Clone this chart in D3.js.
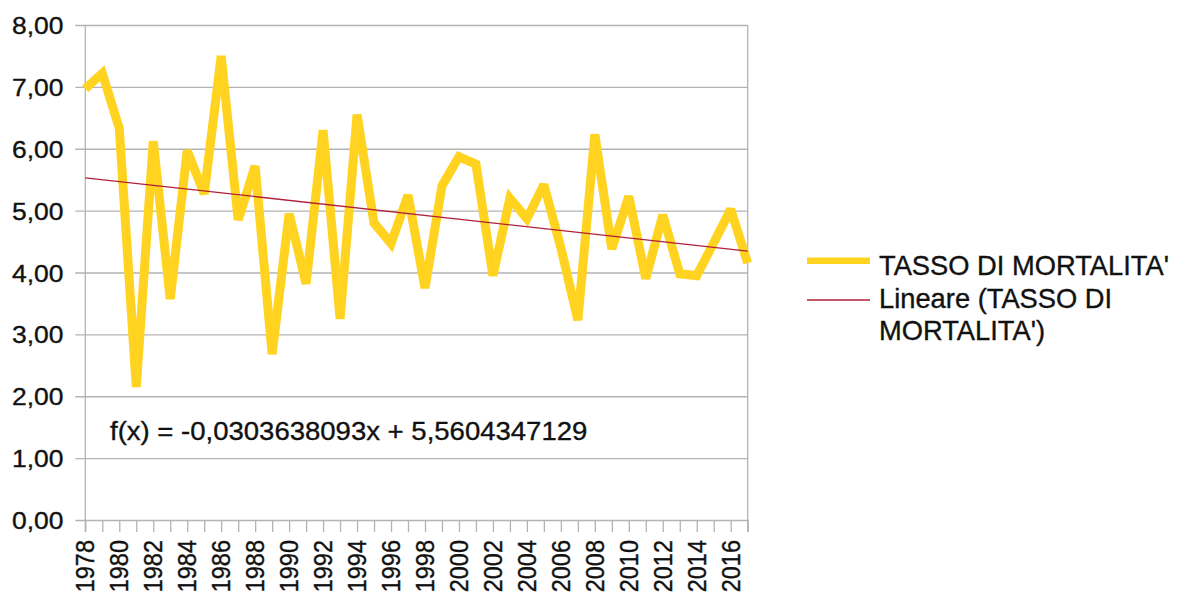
<!DOCTYPE html>
<html>
<head>
<meta charset="utf-8">
<script src="https://cdn.jsdelivr.net/npm/d3@7"></script>
<style>
  html, body { margin: 0; padding: 0; background: #fff; }
  svg { display: block; }
  text { font-family: "Liberation Sans", Arial, sans-serif; fill: #111; stroke: #111; stroke-width: 0.35px; }
</style>
</head>
<body>
<svg id="chart" width="1181" height="601"></svg>
<script>
// Annual mortality rate series
const years = d3.range(1978, 2018);
const rates = [
  6.97, 7.22, 6.33, 2.15, 6.12, 3.57, 5.97, 5.27, 7.50, 4.85,
  5.72, 2.68, 4.95, 3.82, 6.30, 3.25, 6.55, 4.80, 4.47, 5.25,
  3.75, 5.40, 5.87, 5.75, 3.95, 5.20, 4.87, 5.42, 4.40, 3.23,
  6.23, 4.38, 5.23, 3.90, 4.93, 3.98, 3.95, 4.48, 5.02, 4.15
];
// Linear trend f(x) = slope * x + intercept, x = 1..n
const trendCoef = [-0.0303638093, 5.5604347129];
const yTicks = [0, 1, 2, 3, 4, 5, 6, 7, 8];
const xLabelYears = years.filter(y => (y - 1978) % 2 === 0);
const legendLabels = ["TASSO DI MORTALITA'", ["Lineare (TASSO DI", "MORTALITA')"]];
const equationText = "f(x) = -0,0303638093x + 5,5604347129";

const svg = d3.select("#chart");
const L = 85.3, R = 747.7, T = 25, B = 520;
const grid = "#b3b3b3";
const yellow = "#ffd320";
const trendColor = "#b0203a";
const sx = 1.08; // horizontal text stretch

const x = d3.scalePoint().domain(years).range([L, R]);
const y = d3.scaleLinear().domain([0, 8]).range([B, T]);
const fmt = v => d3.format(".2f")(v).replace(".", ",");

// Horizontal gridlines + y labels
const yAxis = d3.axisLeft(y).tickValues(yTicks).tickSize(-(R - L)).tickSizeOuter(0).tickFormat("");
const gy = svg.append("g").attr("transform", `translate(${L},0)`).call(yAxis);
gy.select(".domain").remove();
gy.selectAll(".tick line").attr("stroke", grid).attr("stroke-width", 1.3).attr("x1", -10);
svg.append("g").selectAll("text").data(yTicks).join("text")
  .attr("transform", d => `translate(63.5,${y(d) + 9}) scale(${sx},1)`)
  .attr("text-anchor", "end")
  .style("font-size", "24.5px")
  .text(fmt);

// Left axis line and right border
svg.append("line").attr("x1", L).attr("x2", L).attr("y1", T).attr("y2", B + 12)
  .attr("stroke", grid).attr("stroke-width", 1.3);
svg.append("line").attr("x1", R).attr("x2", R).attr("y1", T).attr("y2", B + 12)
  .attr("stroke", grid).attr("stroke-width", 1.3);

// x ticks every year
const xAxis = d3.axisBottom(x).tickSize(12).tickSizeOuter(0).tickFormat("");
const gx = svg.append("g").attr("transform", `translate(0,${B})`).call(xAxis);
gx.select(".domain").remove();
gx.selectAll(".tick line").attr("stroke", grid).attr("stroke-width", 1.3);

// x labels (rotated)
svg.append("g").selectAll("text").data(xLabelYears).join("text")
  .attr("transform", d => `translate(${x(d) + 9},540) scale(1.12,1) rotate(-90)`)
  .attr("text-anchor", "end")
  .style("font-size", "23.5px")
  .text(d => d);

// Trend line
const trend = years.map((yr, i) => ({ yr, v: trendCoef[0] * (i + 1) + trendCoef[1] }));
const trendLine = d3.line().x(d => x(d.yr)).y(d => y(d.v));

// Series line
svg.append("path")
  .datum(years.map((yr, i) => ({ yr, v: rates[i] })))
  .attr("fill", "none").attr("stroke", yellow).attr("stroke-width", 9)
  .attr("stroke-linejoin", "miter").attr("stroke-miterlimit", 2.5)
  .attr("d", d3.line().x(d => x(d.yr)).y(d => y(d.v)));

// Trend drawn above the series
svg.append("path")
  .datum([trend[0], trend[trend.length - 1]])
  .attr("fill", "none").attr("stroke", trendColor).attr("stroke-width", 1.3)
  .attr("d", trendLine);

// Equation
svg.append("text")
  .attr("transform", `translate(110,440) scale(${sx},1)`)
  .style("font-size", "25.5px")
  .text(equationText);

// Legend
const lg = svg.append("g");
lg.append("line").attr("x1", 807).attr("x2", 870).attr("y1", 260.7).attr("y2", 260.7)
  .attr("stroke", yellow).attr("stroke-width", 6.5);
lg.append("line").attr("x1", 807).attr("x2", 870).attr("y1", 300).attr("y2", 300)
  .attr("stroke", trendColor).attr("stroke-width", 1.3);
lg.append("text").attr("x", 879).attr("y", 275).style("font-size", "27.3px").text(legendLabels[0]);
lg.append("text").attr("x", 879).attr("y", 308).style("font-size", "27.3px").text(legendLabels[1][0]);
lg.append("text").attr("x", 879).attr("y", 340).style("font-size", "27.3px").text(legendLabels[1][1]);
</script>
</body>
</html>
